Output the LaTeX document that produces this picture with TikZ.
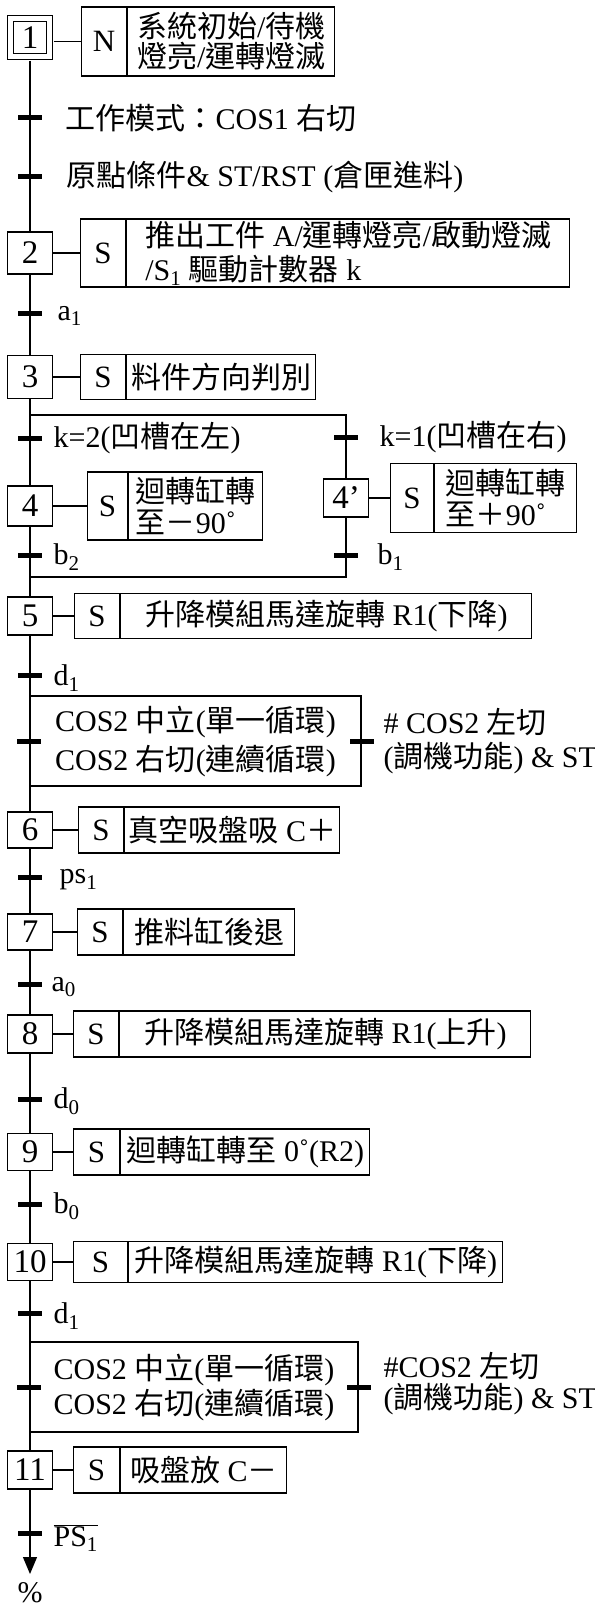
\documentclass[tikz,border=0pt]{standalone}
\usepackage{fontspec}
\setmainfont{Liberation Serif}
\newfontfamily\zhfont{Noto Sans CJK TC}
\newcommand{\zh}[1]{{\zhfont #1}}
\usetikzlibrary{arrows.meta}
\lineskiplimit=-30pt

\begin{document}
\begin{tikzpicture}[x=1pt,y=-1pt,line width=1.2pt,
  font=\fontsize{30}{31}\selectfont,
  stepbox/.style={draw,minimum width=45pt,minimum height=38pt,inner sep=0pt,font=\fontsize{33}{33}\selectfont},
  qbox/.style={draw,anchor=west,inner sep=0pt,font=\fontsize{31}{31}\selectfont},
  actbox/.style={draw,anchor=west,inner sep=0pt,align=center},
  bar/.style={fill,minimum width=24pt,minimum height=5pt,inner sep=0pt},
  lbl/.style={anchor=west,inner sep=0pt}]

  \useasboundingbox (0,0) rectangle (594,1608);

  % steps
  \node[stepbox,double,double distance=5pt,minimum width=38.5pt,minimum height=37.5pt] (1) at (30,37.5) {1};
  \node[stepbox,minimum height=42pt] (2) at (30,253) {2};
  \node[stepbox,minimum height=43pt] (3) at (30,377) {3};
  \node[stepbox,minimum height=40pt] (4) at (30,506) {4};
  \node[stepbox] (4p) at (346,498) {4’};
  \node[stepbox] (5) at (30,616) {5};
  \node[stepbox,minimum height=36pt] (6) at (30,830) {6};
  \node[stepbox,minimum height=36pt] (7) at (30,932) {7};
  \node[stepbox] (8) at (30,1034) {8};
  \node[stepbox,minimum height=37pt] (9) at (30,1152) {9};
  \node[stepbox,minimum height=37pt] (10) at (30,1262) {10};
  \node[stepbox] (11) at (30,1470) {11};

  % actions
  \node[qbox,minimum width=45pt,minimum height=69pt] (q1) at (81,41.5) {N};
  \node[actbox,minimum width=207pt,minimum height=69pt,font=\fontsize{30}{30}\selectfont] (a1) at (q1.east)
    {\zh{系統初始}/\zh{待機}\\\zh{燈亮}/\zh{運轉燈滅}};
  \node[qbox,minimum width=45pt,minimum height=68pt] (q2) at (80,253) {S};
  \node[actbox,align=left,minimum width=443pt,minimum height=68pt,font=\fontsize{30}{34}\selectfont] (a2) at (q2.east)
    {\zh{推出工件} A/\zh{運轉燈亮}/\zh{啟動燈滅}\\/S\textsubscript{1} \zh{驅動計數器} k};
  \node[qbox,minimum width=45pt,minimum height=45pt] (q3) at (80,377) {S};
  \node[actbox,minimum width=189pt,minimum height=45pt] (a3) at (q3.east) {\zh{料件方向判別}};
  \node[qbox,minimum width=40pt,minimum height=68pt] (q4) at (87,506) {S};
  \node[actbox,align=left,minimum width=134pt,minimum height=68pt] (a4) at (q4.east)
    {\zh{迴轉缸轉}\\\zh{至－}90˚};
  \node[qbox,minimum width=43pt,minimum height=69pt] (q4p) at (390,498) {S};
  \node[actbox,align=left,minimum width=142pt,minimum height=69pt] (a4p) at (q4p.east)
    {\zh{迴轉缸轉}\\\zh{至＋}90˚};
  \node[qbox,minimum width=45pt,minimum height=45pt] (q5) at (74,616) {S};
  \node[actbox,minimum width=411pt,minimum height=45pt] (a5) at (q5.east) {\zh{升降模組馬達旋轉} R1(\zh{下降})};
  \node[qbox,minimum width=45pt,minimum height=46pt] (q6) at (78,830) {S};
  \node[actbox,minimum width=215pt,minimum height=46pt] (a6) at (q6.east) {\zh{真空吸盤吸} C\zh{＋}};
  \node[qbox,minimum width=45pt,minimum height=46pt] (q7) at (77,932) {S};
  \node[actbox,minimum width=171pt,minimum height=46pt] (a7) at (q7.east) {\zh{推料缸後退}};
  \node[qbox,minimum width=45pt,minimum height=46pt] (q8) at (73,1034) {S};
  \node[actbox,minimum width=411pt,minimum height=46pt] (a8) at (q8.east) {\zh{升降模組馬達旋轉} R1(\zh{上升})};
  \node[qbox,minimum width=46pt,minimum height=46pt] (q9) at (73,1152) {S};
  \node[actbox,minimum width=249pt,minimum height=46pt] (a9) at (q9.east) {\zh{迴轉缸轉至} 0˚(R2)};
  \node[qbox,minimum width=54pt,minimum height=41pt] (q10) at (73,1262) {S};
  \node[actbox,minimum width=374pt,minimum height=41pt] (a10) at (q10.east) {\zh{升降模組馬達旋轉} R1(\zh{下降})};
  \node[qbox,minimum width=46pt,minimum height=46pt] (q11) at (73,1470) {S};
  \node[actbox,minimum width=166pt,minimum height=46pt] (a11) at (q11.east) {\zh{吸盤放} C\zh{－}};

  % or-boxes of COS2
  \node[draw,align=center,minimum width=331pt,minimum height=90pt,font=\fontsize{30}{39}\selectfont] (or1) at (195.5,741)
    {COS2 \zh{中立}(\zh{單一循環})\\COS2 \zh{右切}(\zh{連續循環})};
  \node[draw,align=center,minimum width=328pt,minimum height=90pt,font=\fontsize{30}{35}\selectfont] (or2) at (194,1387)
    {COS2 \zh{中立}(\zh{單一循環})\\COS2 \zh{右切}(\zh{連續循環})};

  % transitions
  \node[bar] (c1) at (30,118) {};
  \node[bar] (c2) at (30,177) {};
  \node[bar] (c3) at (30,313) {};
  \node[bar] (c4) at (30,438) {};
  \node[bar] (c4p) at (346,437) {};
  \node[bar] (c5) at (30,555) {};
  \node[bar] (c5p) at (346,555) {};
  \node[bar] (c6) at (30,675) {};
  \node[bar] (c7) at (or1.west) {};
  \node[bar] (c7p) at (or1.east) {};
  \node[bar] (c8) at (30,877) {};
  \node[bar] (c9) at (30,984) {};
  \node[bar] (c10) at (30,1099) {};
  \node[bar] (c11) at (30,1204) {};
  \node[bar] (c12) at (30,1313) {};
  \node[bar] (c13) at (or2.west) {};
  \node[bar] (c13p) at (or2.east) {};
  \node[bar] (c14) at (30,1533) {};

  \node[lbl] (l1) at (65,118) {\zh{工作模式：}COS1 \zh{右切}};
  \node[lbl] (l2) at (66,177) {\zh{原點條件}\& ST/RST (\zh{倉匣進料})};
  \node[lbl] (l3) at (57,316) {a\textsubscript{1}};
  \node[lbl] (l4) at (53,438) {k=2(\zh{凹槽在左})};
  \node[lbl] (l4p) at (379,437) {k=1(\zh{凹槽在右})};
  \node[lbl] (l5) at (53,557) {b\textsubscript{2}};
  \node[lbl] (l5p) at (377,557) {b\textsubscript{1}};
  \node[lbl] (l6) at (53,678) {d\textsubscript{1}};
  \node[lbl,align=left,font=\fontsize{30}{34}\selectfont] (l7p) at (383,741) {\# COS2 \zh{左切}\\(\zh{調機功能}) \& ST};
  \node[lbl] (l8) at (59,880) {ps\textsubscript{1}};
  \node[lbl] (l9) at (51,987) {a\textsubscript{0}};
  \node[lbl] (l10) at (53,1101) {d\textsubscript{0}};
  \node[lbl] (l11) at (53,1206) {b\textsubscript{0}};
  \node[lbl] (l12) at (53,1316) {d\textsubscript{1}};
  \node[lbl,align=left,font=\fontsize{30}{31}\selectfont] (l13p) at (383,1384) {\#COS2 \zh{左切}\\(\zh{調機功能}) \& ST};
  \node[lbl] (l14) at (53,1538) {$\overline{\hbox{PS\textsubscript{1}}}$};

  \coordinate (dl) at (30,415);
  \coordinate (dr) at (346,415);
  \coordinate (jl) at (30,577);
  \coordinate (jr) at (346,577);
  \coordinate (tip) at (30,1574);
  \node (end) at (30,1593) {\%};

  % links
  \draw[shorten <=4pt] (1) -- (2);
  \draw (2) -- (3);
  \draw (3) -- (4);
  \draw (4) -- (5);
  \draw (5) -- (6);
  \draw (6) -- (7);
  \draw (7) -- (8);
  \draw (8) -- (9);
  \draw (9) -- (10);
  \draw (10) -- (11);
  \draw[-{Triangle[width=14pt,length=17pt]}] (11) -- (tip);
  \draw (dl) -- (dr) -- (4p);
  \draw (4p) -- (jr) -- (jl);

  \draw[shorten <=4pt] (1.east |- q1.west) -- (q1.west);
  \foreach \s in {2,3,4,4p,5,6,7,8,9,10,11}
    \draw (\s) -- (q\s);

\end{tikzpicture}
\end{document}
